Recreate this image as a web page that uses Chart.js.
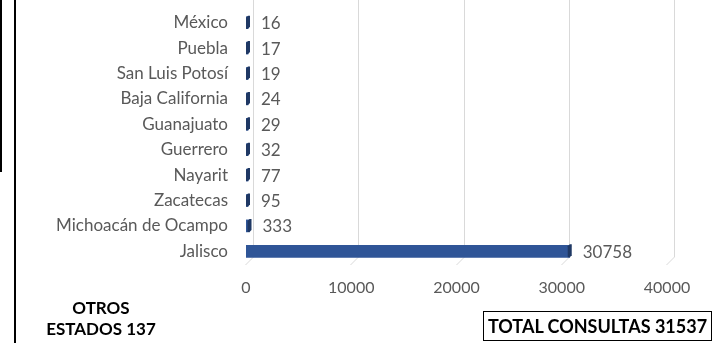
<!DOCTYPE html>
<html>
<head>
<meta charset="utf-8">
<script src="https://cdn.jsdelivr.net/npm/chart.js@4"></script>
<style>
  body { margin: 0; background: #fff; font-family: Lato, sans-serif; }
  #wrap { position: relative; width: 722px; height: 343px; }
  #lineA { position: absolute; left: 0; top: 0; width: 2px; height: 172px; background: #000; }
  #lineB { position: absolute; left: 14px; top: 0; width: 2px; height: 343px; background: #000; }
  #otros { position: absolute; left: 30px; top: 297px; width: 142px; text-align: center;
           font-weight: bold; font-size: 17px; line-height: 21px; color: #000; }
  #total { position: absolute; left: 483px; top: 311px; width: 227px; height: 28px;
           border: 1.5px solid #000; font-weight: bold; font-size: 18px; line-height: 29px;
           text-align: center; color: #000; white-space: nowrap; }
</style>
</head>
<body>
<div id="wrap">
  <canvas id="myChart" width="722" height="343"></canvas>
  <div id="lineA"></div>
  <div id="lineB"></div>
  <div id="otros">OTROS<br>ESTADOS 137</div>
  <div id="total">TOTAL CONSULTAS 31537</div>
</div>
<script>
const estados = ['México', 'Puebla', 'San Luis Potosí', 'Baja California', 'Guanajuato',
                 'Guerrero', 'Nayarit', 'Zacatecas', 'Michoacán de Ocampo', 'Jalisco'];
const consultas = [16, 17, 19, 24, 29, 32, 77, 95, 333, 30758];
const ticksX = [0, 10000, 20000, 30000, 40000];

// rejilla vertical en la pared del fondo, con el pie inclinado (efecto 3D)
const rejilla = {
    id: 'rejilla',
    beforeDatasetsDraw(chart) {
        const c = chart.ctx, x = chart.scales.x, a = chart.chartArea;
        c.save();
        c.strokeStyle = '#d9d9d9';
        c.lineWidth = 1;
        ticksX.forEach(v => {
            const px = Math.round(x.getPixelForValue(v)) + 0.5;
            c.beginPath();
            c.moveTo(px + 7, 0);
            c.lineTo(px + 7, a.bottom - 7);
            c.lineTo(px - 1, a.bottom + 1);
            c.stroke();
        });
        c.restore();
    }
};

// etiquetas de valor al final de cada barra + tapa oscura
const etiquetas = {
    id: 'etiquetas',
    afterDatasetsDraw(chart) {
        const c = chart.ctx;
        const meta = chart.getDatasetMeta(0);
        c.save();
        c.font = '17px Lato';
        c.textBaseline = 'middle';
        meta.data.forEach((bar, i) => {
            const h = bar.height;
            c.fillStyle = '#1f3864';
            c.beginPath();
            c.moveTo(bar.x - 2, bar.y - h / 2 + 1);
            c.lineTo(bar.x, bar.y - h / 2 - 1);
            c.lineTo(bar.x + 2, bar.y - h / 2 - 1);
            c.lineTo(bar.x + 2, bar.y + h / 2 - 2);
            c.lineTo(bar.x, bar.y + h / 2);
            c.lineTo(bar.x - 2, bar.y + h / 2);
            c.closePath();
            c.fill();
            c.fillStyle = '#595959';
            c.fillText(consultas[i], bar.x + 13, bar.y + 1);
        });
        c.restore();
    }
};

const ctx = document.getElementById('myChart');

new Chart(ctx, {
    type: 'bar',
    data: {
        labels: estados,
        datasets: [{
            data: consultas,
            backgroundColor: '#2f5597',
            barThickness: 12,
            minBarLength: 2
        }]
    },
    options: {
        indexAxis: 'y',
        responsive: false,
        animation: false,
        layout: { padding: { top: 10, right: 55, bottom: 0, left: 0 } },
        plugins: { legend: { display: false }, tooltip: { enabled: false } },
        scales: {
            x: {
                min: 0,
                max: 40000,
                afterBuildTicks(s) { s.ticks = ticksX.map(v => ({ value: v })); },
                grid: { display: false },
                border: { display: false },
                ticks: {
                    color: '#595959',
                    font: { family: 'Lato', size: 16 },
                    padding: 6,
                    maxRotation: 0,
                    callback: v => String(v)
                },
                afterFit(s) { s.height = 79; }
            },
            y: {
                grid: { display: false },
                border: { display: false },
                ticks: { color: '#595959', font: { family: 'Lato', size: 17 }, padding: 10 },
                afterFit(s) { s.width = 246; s.paddingTop = 0; s.paddingBottom = 0; }
            }
        }
    },
    plugins: [rejilla, etiquetas]
});
</script>
</body>
</html>
